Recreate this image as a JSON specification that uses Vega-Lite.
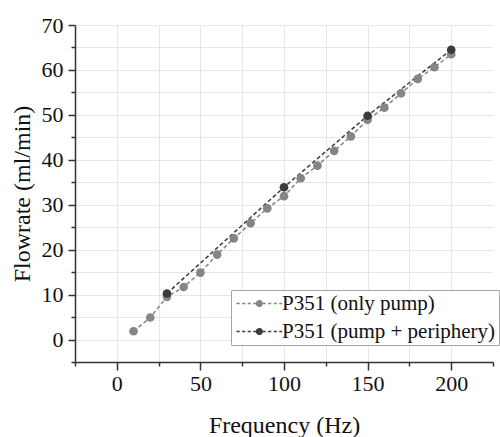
{
  "$schema": "https://vega.github.io/schema/vega-lite/v6.json",
  "width": 418,
  "height": 337,
  "autosize": {"type": "none"},
  "padding": {"left": 75, "top": 25, "right": 7, "bottom": 75},
  "background": "white",
  "config": {
    "view": {"stroke": null},
    "font": "Liberation Serif",
    "axis": {
      "labelFont": "Liberation Serif",
      "titleFont": "Liberation Serif",
      "labelFontSize": 22,
      "titleFontSize": 24,
      "titleFontWeight": "normal",
      "labelColor": "#111111",
      "titleColor": "#111111",
      "domainColor": "#333333",
      "domainWidth": 1.5,
      "tickColor": "#333333",
      "tickWidth": 1.5,
      "gridColor": "#e6e6e6",
      "gridWidth": 1
    }
  },
  "data": {
    "values": [
      {"f": 10, "q": 1.85, "s": "P351 (only pump)"},
      {"f": 20, "q": 4.9, "s": "P351 (only pump)"},
      {"f": 30, "q": 9.5, "s": "P351 (only pump)"},
      {"f": 40, "q": 11.7, "s": "P351 (only pump)"},
      {"f": 50, "q": 14.9, "s": "P351 (only pump)"},
      {"f": 60, "q": 18.9, "s": "P351 (only pump)"},
      {"f": 70, "q": 22.5, "s": "P351 (only pump)"},
      {"f": 80, "q": 25.9, "s": "P351 (only pump)"},
      {"f": 90, "q": 29.2, "s": "P351 (only pump)"},
      {"f": 100, "q": 31.9, "s": "P351 (only pump)"},
      {"f": 110, "q": 35.9, "s": "P351 (only pump)"},
      {"f": 120, "q": 38.7, "s": "P351 (only pump)"},
      {"f": 130, "q": 42.0, "s": "P351 (only pump)"},
      {"f": 140, "q": 45.2, "s": "P351 (only pump)"},
      {"f": 150, "q": 48.9, "s": "P351 (only pump)"},
      {"f": 160, "q": 51.6, "s": "P351 (only pump)"},
      {"f": 170, "q": 54.8, "s": "P351 (only pump)"},
      {"f": 180, "q": 58.0, "s": "P351 (only pump)"},
      {"f": 190, "q": 60.6, "s": "P351 (only pump)"},
      {"f": 200, "q": 63.5, "s": "P351 (only pump)"},
      {"f": 30, "q": 10.25, "s": "P351 (pump + periphery)"},
      {"f": 100, "q": 33.9, "s": "P351 (pump + periphery)"},
      {"f": 150, "q": 49.8, "s": "P351 (pump + periphery)"},
      {"f": 200, "q": 64.5, "s": "P351 (pump + periphery)"}
    ]
  },
  "encoding": {
    "x": {
      "field": "f",
      "type": "quantitative",
      "scale": {"domain": [-25, 225], "nice": false, "zero": false},
      "axis": {
        "title": "Frequency (Hz)",
        "values": [-25, 0, 25, 50, 75, 100, 125, 150, 175, 200, 225],
        "labelExpr": "datum.value % 50 === 0 && datum.value >= 0 && datum.value <= 200 ? datum.label : ''",
        "labelFont": "Liberation Serif",
        "tickSize": {"condition": {"test": "datum.value % 50 === 0", "value": 8}, "value": 4},
        "labelPadding": 3,
        "gridOpacity": {"condition": {"test": "datum.value === 225 || datum.value === -25", "value": 0}, "value": 1},
        "titleBaseline": "alphabetic",
        "titleY": 70
      }
    },
    "y": {
      "field": "q",
      "type": "quantitative",
      "scale": {"domain": [-5, 70], "nice": false, "zero": false},
      "axis": {
        "title": "Flowrate (ml/min)",
        "values": [-5, 0, 5, 10, 15, 20, 25, 30, 35, 40, 45, 50, 55, 60, 65, 70],
        "labelExpr": "datum.value % 10 === 0 && datum.value >= 0 ? datum.label : ''",
        "labelFont": "Liberation Serif",
        "tickSize": {"condition": {"test": "datum.value % 10 === 0", "value": 7}, "value": 4},
        "labelPadding": 5,
        "gridOpacity": {"condition": {"test": "datum.value === -5", "value": 0}, "value": 1},
        "titleAngle": 270,
        "titleBaseline": "alphabetic",
        "titleAlign": "center",
        "titleX": -46,
        "titleY": 168.5
      }
    },
    "color": {
      "field": "s",
      "type": "nominal",
      "scale": {"domain": ["P351 (only pump)", "P351 (pump + periphery)"], "range": ["#858585", "#3c3c3c"]},
      "legend": {
        "title": null,
        "orient": "none",
        "legendX": 156,
        "legendY": 265,
        "padding": 3,
        "rowPadding": 6,
        "labelFont": "Liberation Serif",
        "labelFontSize": 21,
        "labelColor": "#111111",
        "labelLimit": 0,
        "labelOffset": 27,
        "labelExpr": "datum.label === 'P351 (pump + periphery)' ? ' ' + datum.label : datum.label",
        "strokeColor": "#a6a6a6",
        "fillColor": "white",
        "symbolSize": 64,
        "symbolType": "M-2,0L-1.2,0M-0.6,0L0.2,0M0.8,0L1.6,0M2.2,0L2.9,0M4.5,0L5.3,0M5.9,0L6.7,0M7.3,0L8.1,0M8.7,0L9.4,0M4.4,0A0.7,0.7,0,1,1,3.0,0A0.7,0.7,0,1,1,4.4,0Z",
        "encode": {
          "symbols": {
            "update": {
              "fill": {"scale": "color", "field": "value"},
              "stroke": {"scale": "color", "field": "value"},
              "strokeWidth": {"value": 1.5},
              "strokeDash": {"value": [1, 0]},
              "size": {"value": 64},
              "opacity": {"value": 1}
            }
          }
        }
      }
    }
  },
  "layer": [
    {
      "mark": {"type": "line", "strokeDash": [4, 2.5], "strokeWidth": 1.5},
      "encoding": {"order": {"field": "f", "type": "quantitative"}}
    },
    {
      "mark": {"type": "point", "filled": true, "size": 75, "opacity": 1}
    }
  ]
}
